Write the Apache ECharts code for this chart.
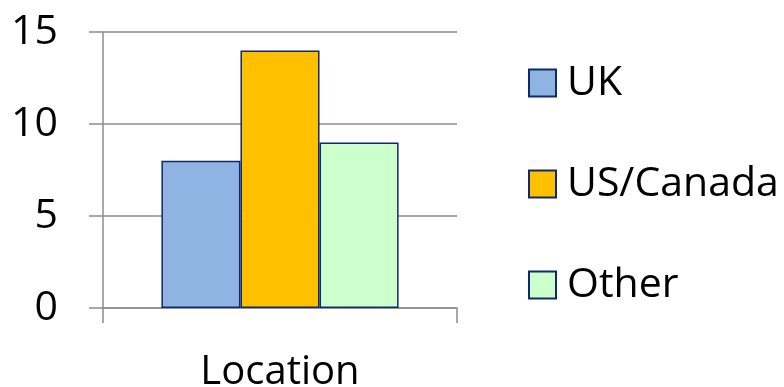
<!DOCTYPE html>
<html>
<head>
<meta charset="utf-8">
<script src="https://cdn.jsdelivr.net/npm/echarts@6/dist/echarts.min.js"></script>
<style>html,body{margin:0;padding:0;background:#fff}#c{width:784px;height:387px}</style>
</head>
<body>
<div id="c"></div>
<script>
var categories = ['Location'];
var seriesNames = ['UK', 'US/Canada', 'Other'];
var ukValues = [8];
var usCanadaValues = [14];
var otherValues = [9];
var yTicks = [0, 5, 10, 15];

var colors = ['#8FB3E2', '#FFC000', '#CCFFCC'];
var font = 'Open Sans';
var chart = echarts.init(document.getElementById('c'));
var dataSets = [ukValues, usCanadaValues, otherValues];
chart.setOption({
  animation: false,
  grid: { left: 103, right: 327, top: 32, bottom: 79, containLabel: false, outerBoundsMode: 'none' },
  legend: {
    orient: 'vertical', left: 523, top: 57, padding: 5,
    itemWidth: 27, itemHeight: 27, itemGap: 59,
    icon: 'rect',
    textStyle: { fontFamily: font, fontSize: 41, color: '#000', lineHeight: 42, padding: [0, 0, 0, 6] },
    data: seriesNames
  },
  xAxis: {
    type: 'category', data: categories,
    axisLine: { lineStyle: { color: '#8c8c8c', width: 1.5 } },
    axisTick: { show: true, length: 15, lineStyle: { color: '#8c8c8c', width: 1.5 } },
    axisLabel: { fontFamily: font, fontSize: 40, color: '#000', margin: 45 }
  },
  yAxis: {
    type: 'value', min: yTicks[0], max: yTicks[yTicks.length - 1], interval: 5,
    axisLine: { show: true, lineStyle: { color: '#8c8c8c', width: 1.5 } },
    axisTick: { show: true, length: 14, lineStyle: { color: '#8c8c8c', width: 1.5 } },
    splitLine: { lineStyle: { color: '#8c8c8c', width: 1.5 } },
    axisLabel: { fontFamily: font, fontSize: 41, color: '#000', margin: 45 }
  },
  series: seriesNames.map(function (n, i) {
    return {
      name: n, type: 'bar', data: dataSets[i],
      barGap: '0%', barCategoryGap: '33%',
      itemStyle: { color: colors[i], borderColor: '#0F2A66', borderWidth: 1.5 }
    };
  })
});
</script>
</body>
</html>
